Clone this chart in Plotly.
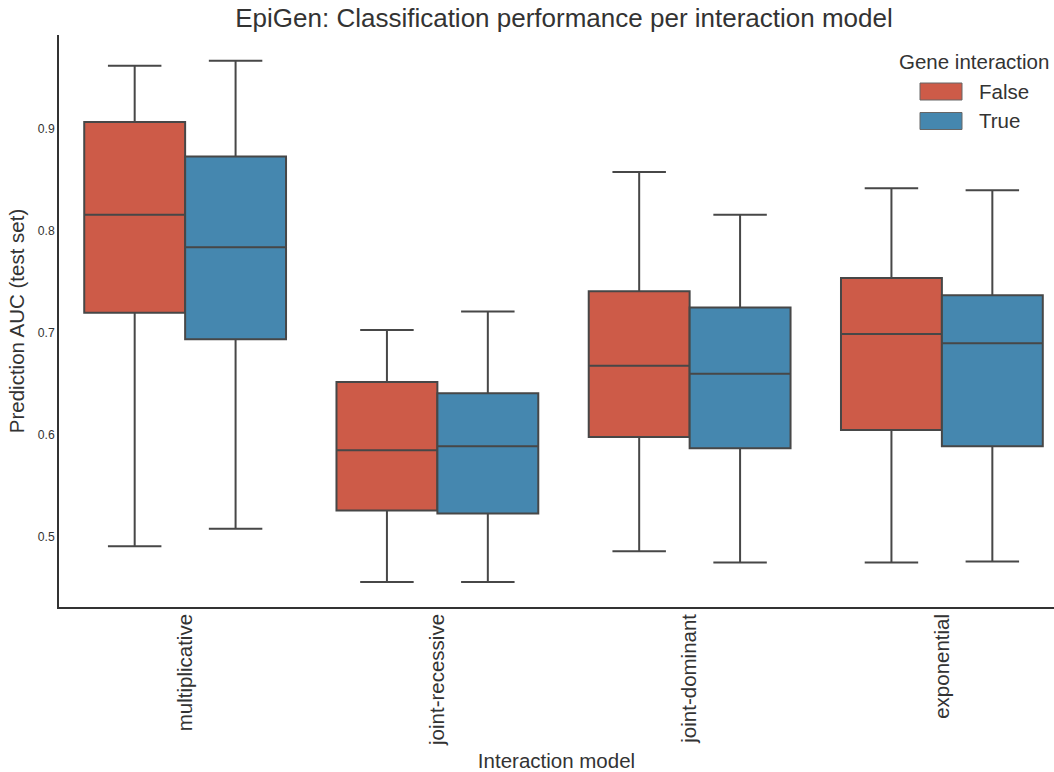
import plotly.graph_objects as go

categories = ["multiplicative", "joint-recessive", "joint-dominant", "exponential"]

false_low = [0.491, 0.456, 0.486, 0.475]
false_q1 = [0.720, 0.526, 0.598, 0.605]
false_med = [0.816, 0.585, 0.668, 0.699]
false_q3 = [0.907, 0.652, 0.741, 0.754]
false_high = [0.962, 0.703, 0.858, 0.842]

true_low = [0.508, 0.456, 0.475, 0.476]
true_q1 = [0.694, 0.523, 0.587, 0.589]
true_med = [0.784, 0.589, 0.660, 0.690]
true_q3 = [0.873, 0.641, 0.725, 0.737]
true_high = [0.967, 0.721, 0.816, 0.840]

y_ticks = [0.5, 0.6, 0.7, 0.8, 0.9]
legend_title = "Gene interaction"
legend_labels = ["False", "True"]

FONT = "Liberation Sans, Arial, sans-serif"
LINE = "#474747"
TXT = "#333333"
RED = "#CD5B48"
BLUE = "#4587AF"

W, H = 1054, 772
L, R, T, B = 59, 0, 35, 165

fig = go.Figure()
fig.add_trace(go.Box(
    name=legend_labels[0], x=categories, q1=false_q1, median=false_med, q3=false_q3,
    lowerfence=false_low, upperfence=false_high,
    fillcolor=RED, line=dict(color=LINE, width=2),
    marker=dict(color=RED), boxpoints=False, whiskerwidth=0.53,
    showlegend=False,
))
fig.add_trace(go.Box(
    name=legend_labels[1], x=categories, q1=true_q1, median=true_med, q3=true_q3,
    lowerfence=true_low, upperfence=true_high,
    fillcolor=BLUE, line=dict(color=LINE, width=2),
    marker=dict(color=BLUE), boxpoints=False, whiskerwidth=0.53,
    showlegend=False,
))

# pixel -> paper (plot-area) coordinates
def px(x):
    return (x - L) / (W - L - R)

def py(y):
    return (H - B - y) / (H - T - B)

shapes = []
annotations = []
annotations.append(dict(text=legend_title, x=px(974), y=py(62), xref="paper", yref="paper",
                        xanchor="center", yanchor="middle", showarrow=False,
                        font=dict(size=20.5, color=TXT, family=FONT)))
for i, (lab, col) in enumerate(zip(legend_labels, [RED, BLUE])):
    yc = 91.5 + i * 29.5
    shapes.append(dict(type="rect", xref="paper", yref="paper",
                       x0=px(920), x1=px(962), y0=py(yc - 8.5), y1=py(yc + 8.5),
                       fillcolor=col, line=dict(color="#666666", width=1)))
    annotations.append(dict(text=lab, x=px(977), y=py(yc), xref="paper", yref="paper",
                            xanchor="left", yanchor="middle", showarrow=False,
                            font=dict(size=20.5, color=TXT, family=FONT)))

fig.update_layout(
    width=W, height=H,
    boxmode="group", boxgap=0.2, boxgroupgap=0.0,
    paper_bgcolor="white", plot_bgcolor="white",
    font=dict(family=FONT, color=TXT),
    margin=dict(l=L, r=R, t=T, b=B, autoexpand=False),
    title=dict(text="EpiGen: Classification performance per interaction model",
               x=564 / W, xanchor="center", y=1 - 18 / H, yanchor="middle",
               font=dict(size=26, color=TXT)),
    xaxis=dict(
        title=dict(text="Interaction model", font=dict(size=20.5, color=TXT), standoff=9),
        tickangle=-90, tickfont=dict(size=20.5, color=TXT),
        range=[-0.5, 3.5 - 14 / 252],
        showline=True, linecolor="#333333", linewidth=1.5,
        showgrid=False, ticks="", mirror=False, automargin=False,
        ticklabelstandoff=-3,
    ),
    yaxis=dict(
        title=dict(text="Prediction AUC (test set)", font=dict(size=20.5, color=TXT), standoff=8),
        range=[0.4314, 0.9922], tickvals=y_ticks,
        tickfont=dict(size=12.2, color=TXT),
        showline=True, linecolor="#333333", linewidth=1.5,
        showgrid=False, zeroline=False, ticks="", automargin=False,
    ),
    shapes=shapes,
    annotations=annotations,
)

fig.write_html("out.html", config={"displayModeBar": False},
               post_script="document.body.style.margin='0';document.body.style.padding='0';")
